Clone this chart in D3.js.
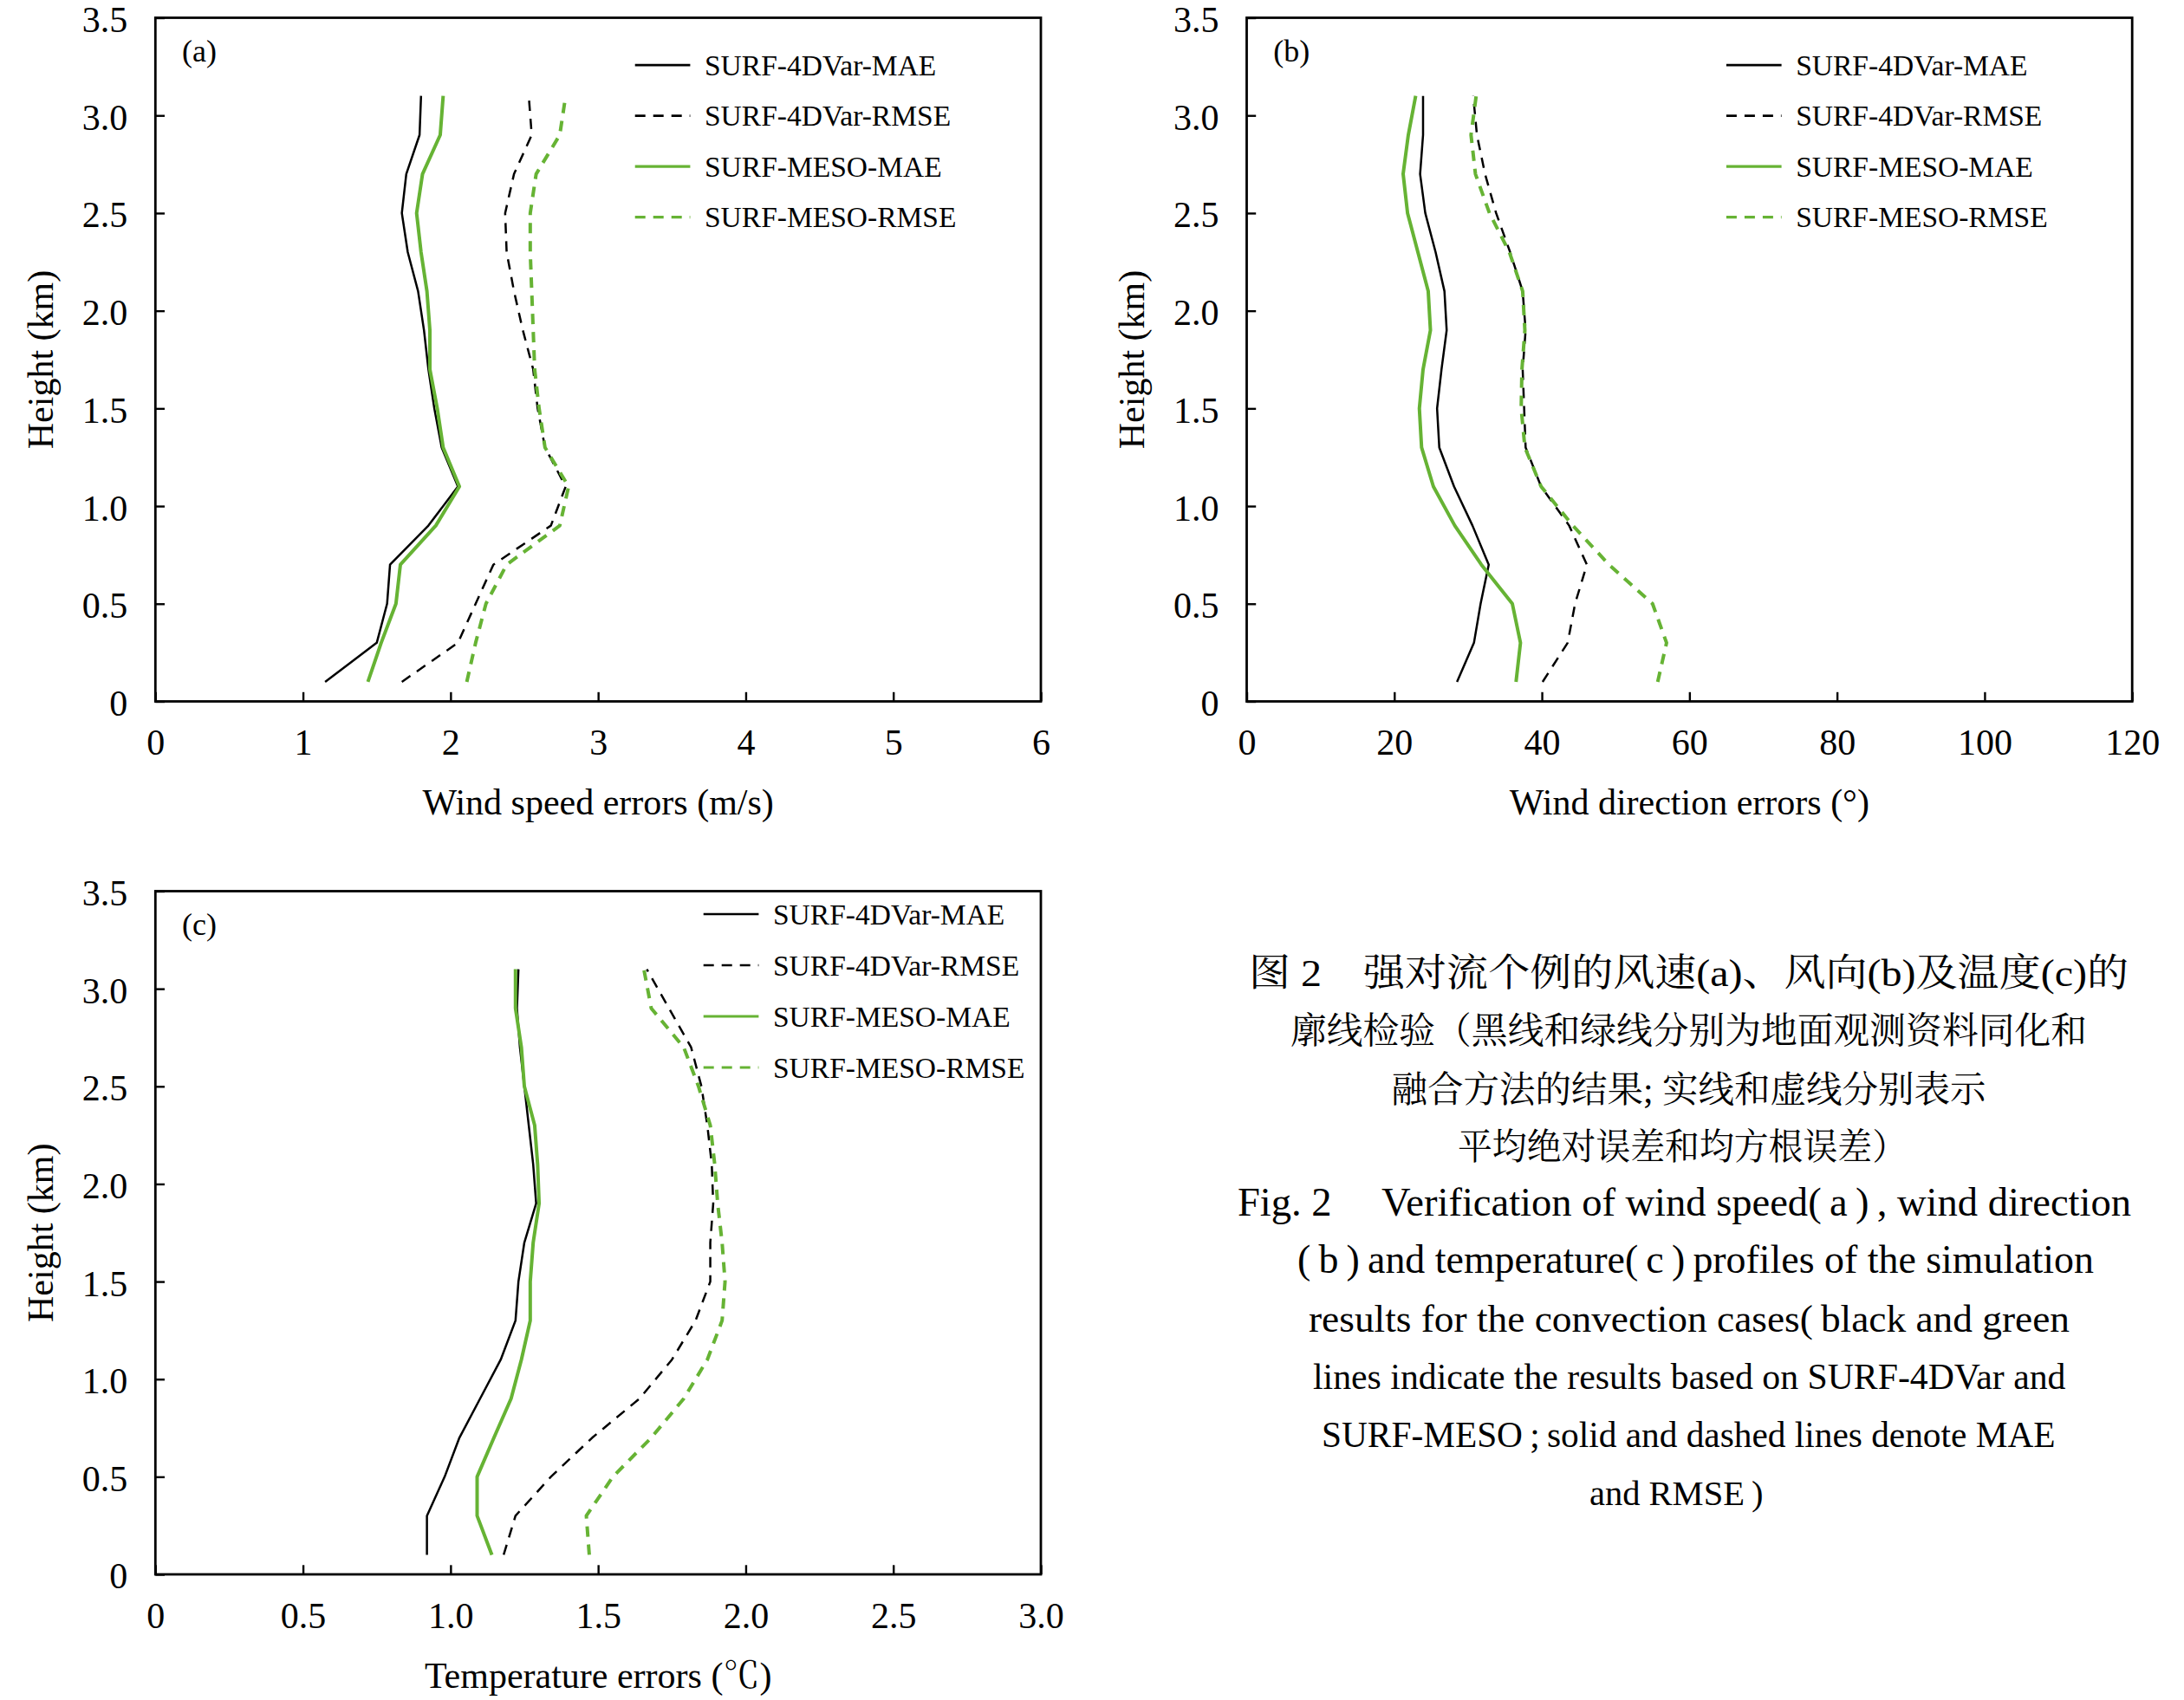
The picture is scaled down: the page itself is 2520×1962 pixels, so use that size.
<!DOCTYPE html>
<html>
<head>
<meta charset="utf-8">
<script src="https://cdn.jsdelivr.net/npm/d3@7"></script>
<style>
  body { margin: 0; background: #fff; }
  svg text { font-family: "Liberation Serif", "Times New Roman", "Noto Serif CJK SC", "Noto Sans CJK SC", serif; fill: #000; }
</style>
</head>
<body>
<div id="chart"></div>
<script>
// profile heights (km)
var heights = [0.1, 0.3, 0.5, 0.7, 0.9, 1.1, 1.3, 1.5, 1.7, 1.9, 2.1, 2.3, 2.5, 2.7, 2.9, 3.1];

// (a) wind speed errors (m/s)
var speed4dvarMae  = [1.15, 1.50, 1.57, 1.59, 1.85, 2.05, 1.94, 1.89, 1.85, 1.82, 1.78, 1.71, 1.67, 1.70, 1.79, 1.80];
var speed4dvarRmse = [1.67, 2.05, 2.17, 2.29, 2.68, 2.78, 2.64, 2.59, 2.56, 2.49, 2.43, 2.38, 2.37, 2.43, 2.55, 2.53];
var speedMesoMae   = [1.44, 1.53, 1.63, 1.66, 1.90, 2.06, 1.95, 1.91, 1.86, 1.86, 1.84, 1.80, 1.77, 1.81, 1.93, 1.95];
var speedMesoRmse  = [2.11, 2.17, 2.24, 2.38, 2.74, 2.80, 2.64, 2.60, 2.57, 2.56, 2.55, 2.54, 2.54, 2.58, 2.74, 2.78];

// (b) wind direction errors (deg)
var dir4dvarMae  = [28.5, 30.8, 31.7, 32.8, 30.6, 28.1, 26.1, 25.8, 26.4, 27.1, 26.8, 25.6, 24.2, 23.5, 23.9, 23.9];
var dir4dvarRmse = [40.1, 43.5, 44.5, 46.1, 43.7, 39.9, 37.8, 37.6, 37.4, 37.8, 37.4, 35.7, 33.8, 32.3, 31.2, 30.7];
var dirMesoMae   = [36.5, 37.1, 36.0, 31.8, 28.2, 25.3, 23.7, 23.4, 23.9, 24.9, 24.6, 23.2, 21.8, 21.2, 21.9, 22.9];
var dirMesoRmse  = [55.7, 56.9, 55.0, 49.1, 44.2, 39.9, 37.7, 37.2, 37.3, 37.7, 37.4, 35.6, 32.9, 31.0, 30.4, 31.1];

// (c) temperature errors (degC)
var temp4dvarMae  = [0.92, 0.92, 0.98, 1.03, 1.10, 1.17, 1.22, 1.23, 1.25, 1.29, 1.28, 1.265, 1.25, 1.235, 1.225, 1.23];
var temp4dvarRmse = [1.18, 1.22, 1.34, 1.48, 1.64, 1.75, 1.83, 1.88, 1.88, 1.89, 1.885, 1.87, 1.85, 1.815, 1.74, 1.665];
var tempMesoMae   = [1.14, 1.09, 1.09, 1.147, 1.205, 1.24, 1.27, 1.27, 1.28, 1.30, 1.295, 1.285, 1.25, 1.24, 1.22, 1.22];
var tempMesoRmse  = [1.47, 1.46, 1.55, 1.68, 1.79, 1.87, 1.92, 1.93, 1.92, 1.905, 1.895, 1.88, 1.84, 1.79, 1.68, 1.655];

var seriesNames = ["SURF-4DVar-MAE", "SURF-4DVar-RMSE", "SURF-MESO-MAE", "SURF-MESO-RMSE"];

var heightTicks    = [0, 0.5, 1, 1.5, 2, 2.5, 3, 3.5];
var speedTicks     = [0, 1, 2, 3, 4, 5, 6];
var directionTicks = [0, 20, 40, 60, 80, 100, 120];
var tempTicks      = [0, 0.5, 1, 1.5, 2, 2.5, 3];

var captionLines = [
  "图 2\u3000强对流个例的风速(a)、风向(b)及温度(c)的",
  "廓线检验（黑线和绿线分别为地面观测资料同化和",
  "融合方法的结果; 实线和虚线分别表示",
  "平均绝对误差和均方根误差）",
  "Fig. 2\u3000 Verification of wind speed(\u2009a\u2009)\u2009, wind direction",
  "(\u2009b\u2009)\u2009and temperature(\u2009c\u2009)\u2009profiles of the simulation",
  "results for the convection cases(\u2009black and green",
  "lines indicate the results based on SURF-4DVar and",
  "SURF-MESO\u2009;\u2009solid and dashed lines denote MAE",
  "and RMSE\u2009)"
];

var green = "#66b334";
var lineStyle = [
  {color: "#000", dash: null,   width: 2.5},
  {color: "#000", dash: "12,9", width: 2.5},
  {color: green,  dash: null,   width: 4},
  {color: green,  dash: "12,9", width: 4}
];

var svg = d3.select("#chart").append("svg")
  .attr("width", 2520)
  .attr("height", 1962)
  .style("background", "#fff");

var fmt1 = function(d) { return d === 0 ? "0" : d3.format(".1f")(d); };

function drawPanel(p) {
  var g = svg.append("g").attr("transform", "translate(" + p.left + "," + p.top + ")");
  var w = p.width, h = p.height;

  var x = d3.scaleLinear().domain([p.xTicks[0], p.xTicks[p.xTicks.length - 1]]).range([0, w]);
  var y = d3.scaleLinear().domain([0, 3.5]).range([h, 0]);

  // axes, ticks pointing inward
  var gx = g.append("g")
    .attr("transform", "translate(0," + h + ")")
    .call(d3.axisBottom(x).tickValues(p.xTicks).tickSizeInner(-10.7).tickSizeOuter(0)
      .tickPadding(32).tickFormat(p.xFormat));
  var gy = g.append("g")
    .call(d3.axisLeft(y).tickValues(heightTicks).tickSizeInner(-10.7).tickSizeOuter(0)
      .tickPadding(32).tickFormat(fmt1));

  [gx, gy].forEach(function(a) {
    a.attr("font-family", null).attr("font-size", null);
    a.select(".domain").remove();
    a.selectAll(".tick line").attr("stroke", "#000").attr("stroke-width", 2.4);
    a.selectAll(".tick text").attr("font-size", 42);
  });
  gy.selectAll(".tick text").attr("dy", "0.38em");

  g.append("rect")
    .attr("width", w)
    .attr("height", h)
    .attr("fill", "none")
    .attr("stroke", "#000")
    .attr("stroke-width", 2.8);

  var line = d3.line()
    .x(function(d) { return x(d[0]); })
    .y(function(d) { return y(d[1]); });

  p.series.forEach(function(vals, i) {
    var s = lineStyle[i];
    g.append("path")
      .datum(vals.map(function(v, k) { return [v, heights[k]]; }))
      .attr("d", line)
      .attr("fill", "none")
      .attr("stroke", s.color)
      .attr("stroke-width", s.width)
      .attr("stroke-dasharray", s.dash)
      .attr("stroke-linejoin", "round");
  });

  // legend
  seriesNames.forEach(function(name, i) {
    var s = lineStyle[i];
    var ry = p.legendTop + i * p.legendStep;
    g.append("line")
      .attr("x1", p.legendX).attr("x2", p.legendX + 63.7)
      .attr("y1", ry).attr("y2", ry)
      .attr("stroke", s.color)
      .attr("stroke-width", i < 2 ? 2.6 : 3.2)
      .attr("stroke-dasharray", s.dash);
    g.append("text")
      .attr("x", p.legendX + 80.3)
      .attr("y", ry + 11.5)
      .attr("font-size", 33.5)
      .text(name);
  });

  g.append("text")
    .attr("x", 30.7)
    .attr("y", 50)
    .attr("font-size", 36)
    .text(p.label);

  g.append("text")
    .attr("x", w / 2)
    .attr("y", h + p.titleGap)
    .attr("text-anchor", "middle")
    .attr("font-size", 42)
    .text(p.xTitle);

  g.append("text")
    .attr("transform", "translate(-118.3," + (h / 2) + ") rotate(-90)")
    .attr("text-anchor", "middle")
    .attr("font-size", 42)
    .text("Height (km)");
}

drawPanel({
  left: 179.3, top: 20.5, width: 1021.7, height: 789,
  xTicks: speedTicks, xFormat: d3.format("d"),
  series: [speed4dvarMae, speed4dvarRmse, speedMesoMae, speedMesoRmse],
  legendX: 553.4, legendTop: 54.6, legendStep: 58.5,
  label: "(a)", xTitle: "Wind speed errors (m/s)", titleGap: 130
});

drawPanel({
  left: 1438.5, top: 20.5, width: 1021.7, height: 789,
  xTicks: directionTicks, xFormat: d3.format("d"),
  series: [dir4dvarMae, dir4dvarRmse, dirMesoMae, dirMesoRmse],
  legendX: 553.4, legendTop: 54.6, legendStep: 58.5,
  label: "(b)", xTitle: "Wind direction errors (°)", titleGap: 130
});

drawPanel({
  left: 179.3, top: 1028.5, width: 1021.7, height: 788.5,
  xTicks: tempTicks, xFormat: fmt1,
  series: [temp4dvarMae, temp4dvarRmse, tempMesoMae, tempMesoRmse],
  legendX: 632.4, legendTop: 26.5, legendStep: 59,
  label: "(c)", xTitle: "Temperature errors (℃)", titleGap: 131
});

// caption block: left edge, baseline, line width, font size
var captionLayout = [
  [1441, 1137.5, 1015, 44],
  [1489, 1203.5, 919, 42.5],
  [1605.5, 1271.5, 686, 41.5],
  [1682, 1337.5, 518, 41.5],
  [1428, 1403.2, 1031, 46],
  [1497, 1469.3, 919, 46],
  [1510, 1537, 878, 44.5],
  [1515, 1603.2, 868.5, 41.5],
  [1525, 1669.5, 846.5, 41.5],
  [1834, 1737, 200.5, 41]
];

svg.append("g").selectAll("text")
  .data(captionLines)
  .join("text")
  .attr("x", function(d, i) { return captionLayout[i][0]; })
  .attr("y", function(d, i) { return captionLayout[i][1]; })
  .attr("textLength", function(d, i) { return captionLayout[i][2]; })
  .attr("lengthAdjust", "spacingAndGlyphs")
  .attr("font-size", function(d, i) { return captionLayout[i][3]; })
  .text(function(d) { return d; });
</script>
</body>
</html>
